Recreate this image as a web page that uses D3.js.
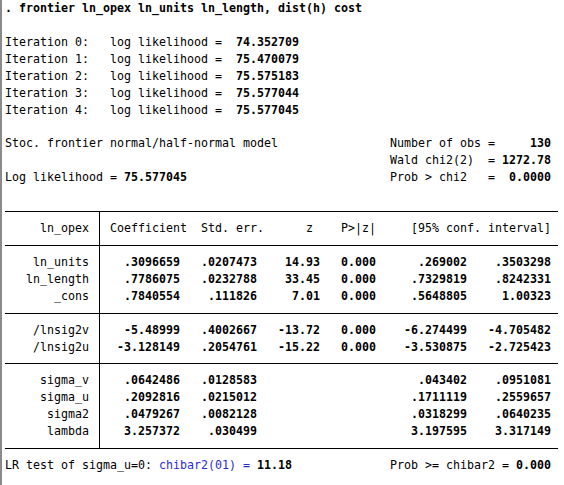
<!DOCTYPE html>
<html><head><meta charset="utf-8">
<script src="https://cdn.jsdelivr.net/npm/d3@7"></script>
<style>body{margin:0;background:#fff}text{font-family:"DejaVu Sans Mono",monospace;font-size:11.63px;fill:#000;white-space:pre}</style>
</head><body><svg id="c" width="564" height="485"></svg>
<script>
const command = ". frontier ln_opex ln_units ln_length, dist(h) cost";
const iterLL = ["74.352709","75.470079","75.575183","75.577044","75.577045"];
const headerLabels = ["ln_opex","Coefficient","Std. err.","z","P>|z|","[95% conf. interval]"];
const vars1 = ["ln_units","ln_length","_cons"];
const coef1 = [".3096659",".7786075",".7840554"];
const se1 = [".0207473",".0232788",".111826"];
const z1 = ["14.93","33.45","7.01"];
const p1 = ["0.000","0.000","0.000"];
const lo1 = [".269002",".7329819",".5648805"];
const hi1 = [".3503298",".8242331","1.00323"];
const vars2 = ["/lnsig2v","/lnsig2u"];
const coef2 = ["-5.48999","-3.128149"];
const se2 = [".4002667",".2054761"];
const z2 = ["-13.72","-15.22"];
const p2 = ["0.000","0.000"];
const lo2 = ["-6.274499","-3.530875"];
const hi2 = ["-4.705482","-2.725423"];
const vars3 = ["sigma_v","sigma_u","sigma2","lambda"];
const coef3 = [".0642486",".2092816",".0479267","3.257372"];
const se3 = [".0128583",".0215012",".0082128",".030499"];
const lo3 = [".043402",".1711119",".0318299","3.197595"];
const hi3 = [".0951081",".2559657",".0640235","3.317149"];
const nObs = "130", wald = "1272.78", probChi = "0.0000", logLik = "75.577045";
const chibar = "11.18", probChibar = "0.000";

const svg = d3.select("#c");
const x = d3.scaleLinear().domain([0,78]).range([5,551]);   // character columns
const y = d3.scaleLinear().domain([0,27]).range([8,465]);   // text lines
svg.append("rect").attr("x",0).attr("y",0).attr("width",2).attr("height",485).attr("fill","#8a8a8a");
function put(line,col,t,opt={}){
  const e = svg.append("text").attr("x",x(col)).attr("y",y(line)+4).text(t);
  if(opt.end) e.attr("text-anchor","end");
  if(opt.bold) e.attr("font-weight","bold");
  if(opt.color) e.style("fill",opt.color);
}
put(0,0,command,{bold:true});
iterLL.forEach((v,i)=>{put(2+i,0,`Iteration ${i}:`);put(2+i,15,"log likelihood =");put(2+i,33,v,{bold:true});});
put(8,0,"Stoc. frontier normal/half-normal model");
put(8,55,"Number of obs");put(8,69,"=");put(8,78,nObs,{end:true,bold:true});
put(9,55,"Wald chi2(2)");put(9,69,"=");put(9,78,wald,{end:true,bold:true});
put(10,0,"Log likelihood =");put(10,17,logLik,{bold:true});
put(10,55,"Prob > chi2");put(10,69,"=");put(10,78,probChi,{end:true,bold:true});
// header
const hEnds=[12,26,37,44,53,78];
headerLabels.forEach((h,i)=>put(13,hEnds[i],h,{end:true}));
function rows(start,vars,cols){
  vars.forEach((v,i)=>{
    put(start+i,12,v,{end:true});
    cols.forEach(([arr,end])=>{ if(arr) put(start+i,end,arr[i],{end:true,bold:true}); });
  });
}
rows(15,vars1,[[coef1,25],[se1,36],[z1,45],[p1,53],[lo1,66],[hi1,78]]);
rows(19,vars2,[[coef2,25],[se2,36],[z2,45],[p2,53],[lo2,66],[hi2,78]]);
rows(22,vars3,[[coef3,25],[se3,36],[lo3,66],[hi3,78]]);
[12,14,18,21,26].forEach(l=>svg.append("line").attr("x1",5).attr("x2",558).attr("y1",Math.round(y(l))+0.5).attr("y2",Math.round(y(l))+0.5).attr("stroke","#000"));
svg.append("line").attr("x1",99.5).attr("x2",99.5).attr("y1",y(12)).attr("y2",y(26)).attr("stroke","#000");
put(27,0,"LR test of sigma_u=0:");put(27,22,"chibar2(01) =",{color:"#2b2bd6"});put(27,36,chibar,{bold:true});
put(27,55,"Prob >= chibar2 =");put(27,78,probChibar,{end:true,bold:true});
</script></body></html>
